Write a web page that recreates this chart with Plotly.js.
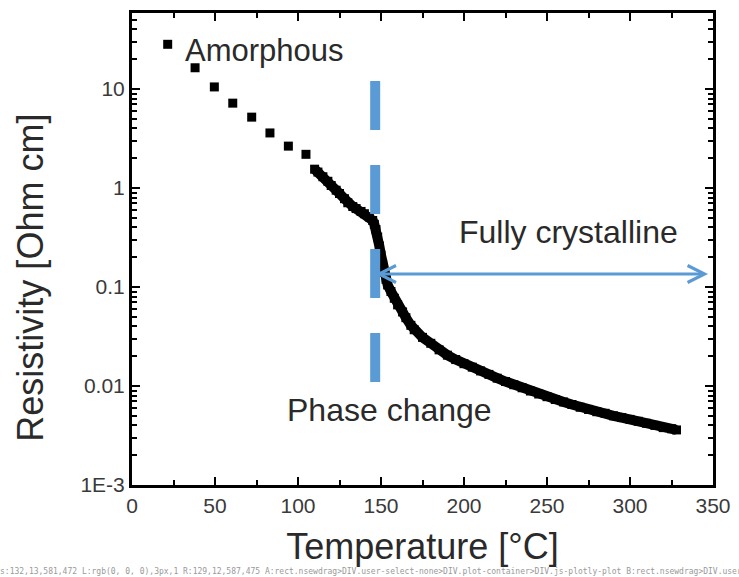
<!DOCTYPE html>
<html>
<head>
<meta charset="utf-8">
<script src="https://cdn.plot.ly/plotly-3.0.1.min.js"></script>
<style>html,body{margin:0;padding:0;background:#fff;overflow:hidden;}#chart{width:739px;height:577px;}#dg{position:absolute;left:0;top:567px;font:8px monospace;color:#999;white-space:nowrap;}</style>
</head>
<body>
<div id="chart"></div>
<div id="dg"></div>
<script>
// Amorphous phase (discrete points)
const amorphousT = [21.5, 38, 49.6, 60.7, 72.1, 83.1, 94.2, 104.8];
const amorphousR = [28.3, 16.4, 10.5, 7.2, 5.2, 3.6, 2.65, 2.19];
// Crystallization and crystalline phase (dense points)
const crystT = [110,112,115,118,120,123,125,128,130,133,135,138,140,143,145,146,147,148,149,150,151,152,153,154,156,158,160,163,165,168,170,175,180,185,190,195,200,205,210,215,220,225,230,235,240,245,250,255,260,265,270,275,280,285,290,295,300,305,310,315,320,325,328];
const crystR = [1.55,1.45,1.3,1.17,1.06,0.95,0.88,0.78,0.71,0.65,0.62,0.58,0.55,0.51,0.47,0.43,0.38,0.32,0.26,0.21,0.17,0.14,0.12,0.105,0.09,0.077,0.066,0.056,0.049,0.041,0.037,0.031,0.027,0.0232,0.0205,0.0185,0.0168,0.0155,0.0142,0.0131,0.012,0.0111,0.0103,0.0096,0.0089,0.0083,0.0078,0.0073,0.0069,0.0065,0.0061,0.0058,0.0055,0.0053,0.005,0.0048,0.0046,0.0044,0.0042,0.004,0.0038,0.0037,0.0036];
// Axis tick labels
const yTickVals = [0.001, 0.01, 0.1, 1, 10];
const yTickText = ["1E-3", "0.01", "0.1", "1", "10"];
// Annotation positions (temperature)
const phaseChangeT = 146.5;
const crystallineArrowT = [145.8, 347];
const labels = {amorphous: "Amorphous", crystalline: "Fully crystalline", phase: "Phase change"};

const yMinor = [];
for (let k = -3; k <= 1; k++) for (let d = 2; d <= 9; d++) yMinor.push(d * Math.pow(10, k));

const FONT = "Liberation Sans, Arial, Helvetica, sans-serif";
const BLUE = "#5B9BD5";
const TXT = "#2a2a2a";

const traces = [
  {x: amorphousT, y: amorphousR, type: "scatter", mode: "markers",
   marker: {symbol: "square", size: 9, color: "#000"}, showlegend: false, hoverinfo: "x+y"},
  {x: crystT, y: crystR, type: "scatter", mode: "lines+markers",
   line: {color: "#000", width: 10}, marker: {symbol: "square", size: 9, color: "#000"},
   showlegend: false, hoverinfo: "x+y"}
];

const layout = {
  width: 739, height: 577,
  margin: {l: 132, r: 26, t: 13, b: 92},
  paper_bgcolor: "#ffffff",
  plot_bgcolor: "#ffffff",
  showlegend: false,
  xaxis: {
    range: [0, 350], dtick: 50,
    ticks: "inside", ticklen: 8, tickwidth: 2, tickcolor: "#000",
    showline: true, linecolor: "#000", linewidth: 3, mirror: "ticks",
    showgrid: false, zeroline: false,
    tickfont: {family: FONT, size: 21, color: "#3a3a3a"},
    minor: {dtick: 25, ticks: "inside", ticklen: 5, tickwidth: 2, tickcolor: "#000", showgrid: false},
    title: {text: "Temperature [°C]", font: {family: FONT, size: 36, color: TXT}, standoff: 18}
  },
  yaxis: {
    type: "log", range: [-3, 1.768],
    tickmode: "array", tickvals: yTickVals, ticktext: yTickText,
    ticks: "inside", ticklen: 8, tickwidth: 2, tickcolor: "#000",
    showline: true, linecolor: "#000", linewidth: 3, mirror: "ticks",
    showgrid: false, zeroline: false,
    tickfont: {family: FONT, size: 21, color: "#3a3a3a"},
    minor: {tickmode: "array", tickvals: yMinor, ticks: "inside", ticklen: 5, tickwidth: 1.5, tickcolor: "#000", showgrid: false}
  },
  shapes: [
    {type: "line", xref: "x", yref: "paper", x0: phaseChangeT, x1: phaseChangeT, y0: 0.856, y1: 0.218,
     line: {color: BLUE, width: 10, dash: "49px,35px"}}
  ],
  annotations: [
    {xref: "paper", yref: "paper", x: -0.175, y: 0.44, text: "Resistivity [Ohm cm]", textangle: -90,
     showarrow: false, font: {family: FONT, size: 36, color: TXT}, xanchor: "center", yanchor: "middle"},
    {xref: "paper", yref: "paper", x: 0.0878, y: 0.921, text: labels.amorphous, showarrow: false,
     xanchor: "left", yanchor: "middle", font: {family: FONT, size: 31, color: TXT}},
    {xref: "paper", yref: "paper", x: 0.752, y: 0.536, text: labels.crystalline, showarrow: false,
     xanchor: "center", yanchor: "middle", font: {family: FONT, size: 32, color: TXT}},
    {xref: "paper", yref: "paper", x: 0.444, y: 0.159, text: labels.phase, showarrow: false,
     xanchor: "center", yanchor: "middle", font: {family: FONT, size: 32, color: TXT}},
    {xref: "x", yref: "paper", x: crystallineArrowT[1], y: 0.447,
     axref: "x", ayref: "pixel", ax: crystallineArrowT[0], ay: 0, text: "",
     showarrow: true, arrowside: "end+start", arrowhead: 5, startarrowhead: 5,
     arrowsize: 1.1, startarrowsize: 1.1, arrowwidth: 3, arrowcolor: BLUE, standoff: 0, startstandoff: 0}
  ]
};

function nm(e){ const c = e.getAttribute && e.getAttribute('class'); return (e.tagName||'') + (c ? '.' + String(c).split(' ')[0] : ''); }
Plotly.newPlot("chart", traces, layout, {displayModeBar: false}).then(function(gd){
  try {
    const s = gd._fullLayout._size;
    const ln = gd.querySelector('path.xlines-above');
    const cs = ln ? getComputedStyle(ln) : null;
    const a = document.elementsFromPoint(134, 300).slice(0,4).map(nm).join('>');
    const b = document.elementsFromPoint(381, 481).slice(0,4).map(nm).join('>');
    const r = ln ? ln.getBoundingClientRect() : null;
    document.getElementById('dg').textContent = 's:' + [s.l,s.t,s.w,s.h].map(Math.round).join(',') +
      ' L:' + (cs ? cs.stroke + ',' + cs.strokeWidth + ',' + cs.opacity : 'none') +
      ' R:' + (r ? [r.x,r.y,r.width,r.height].map(Math.round).join(',') : '') +
      ' A:' + a + ' B:' + b + ' W:' + window.innerWidth + 'x' + window.innerHeight + ' dpr' + window.devicePixelRatio;
  } catch (e) { document.getElementById('dg').textContent = 'E:' + e; }
});
</script>
</body>
</html>
